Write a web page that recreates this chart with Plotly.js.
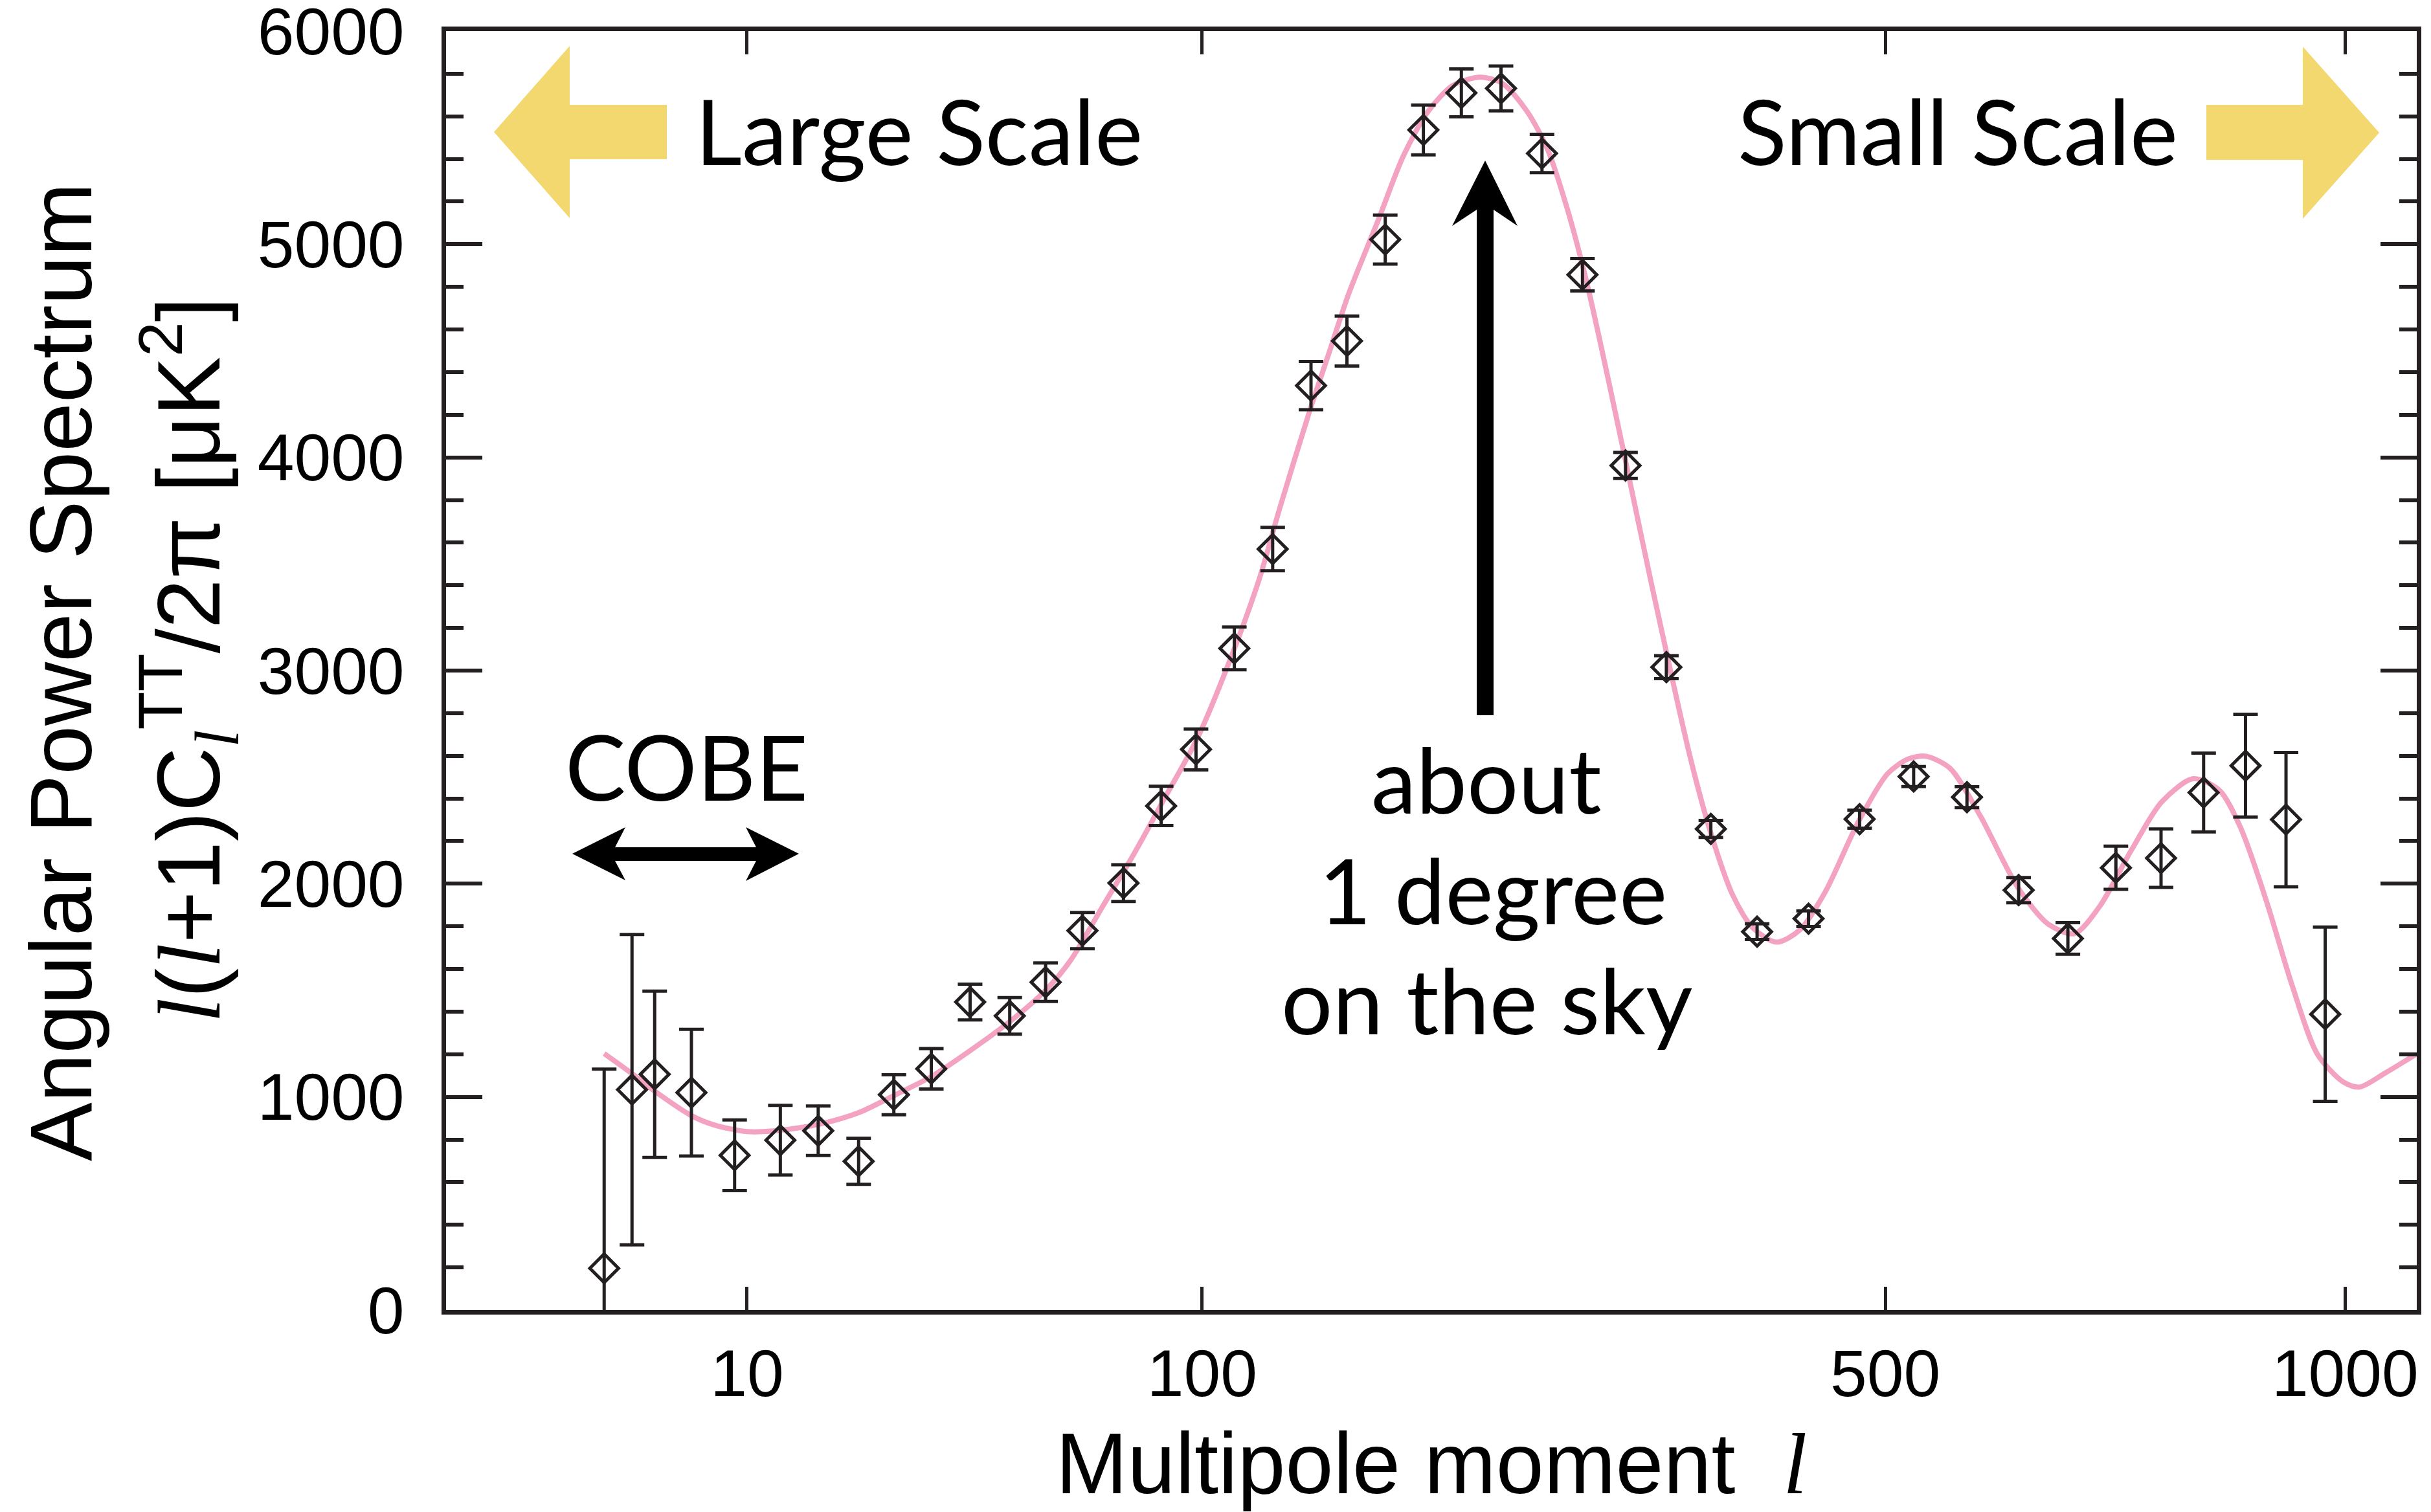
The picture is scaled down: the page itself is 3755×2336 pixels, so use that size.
<!DOCTYPE html>
<html>
<head>
<meta charset="utf-8">
<script src="https://cdn.plot.ly/plotly-3.0.1.min.js"></script>
<style>
  html, body { margin: 0; padding: 0; background: #ffffff; }
  #chart { width: 3755px; height: 2336px; }
</style>
</head>
<body>
<div id="chart"></div>
<script>
// ---------------- DATA ----------------
// Binned measurements: multipole moment l, power l(l+1)C_l/2pi [uK^2], 1-sigma error
const dataEll   = [2, 3, 4, 6, 9, 13, 17, 22, 27, 33, 40, 48, 56, 65, 76, 87, 98, 111, 125, 140,
                   155, 172, 190, 209, 230, 253, 277, 304, 331, 362, 396, 436, 478, 525, 574, 624, 674, 725, 775, 824,
                   874, 924, 974];
const dataPower = [196, 1034, 1106, 1020, 726, 797, 841, 698, 1010, 1132, 1445, 1380, 1538, 1780, 2003, 2365, 2630, 3104, 3570, 4337,
                   4546, 5022, 5536, 5710, 5731, 5426, 4857, 3962, 3016, 2257, 1775, 1836, 2303, 2503, 2406, 1970, 1743, 2075, 2120, 2428,
                   2554, 2301, 1388];
const dataError = [934, 728, 390, 297, 166, 163, 116, 108, 94, 95, 84, 86, 90, 85, 86, 92, 96, 100, 102, 113,
                   117, 115, 117, 112, 105, 90, 76, 61, 54, 40, 37, 37, 42, 47, 49, 59, 74, 101, 137, 185,
                   241, 315, 409];

// Model (theory) curve
const modelEll   = [2, 3, 4, 6, 7.5, 10, 12.3, 17, 22, 27.5, 33, 40, 48, 56, 62, 70, 79, 88, 98.5, 109.5,
                    120, 127.6, 139.3, 147.4, 155.8, 169, 180.4, 192.3, 204.7, 218.8, 230.9, 244.5, 256, 267.7, 279.6, 291.9, 304.5, 320.8,
                    348, 362.4, 377.7, 393, 411, 429, 450, 476, 502, 520, 536, 558, 587, 623, 654, 681, 708, 742, 776, 812, 843, 868,
                    900, 931, 964, 998, 1019, 1054, 1096];
const modelPower = [1203, 1109, 1027, 912, 868, 837, 840, 871, 926, 1014, 1095, 1217, 1353, 1500, 1640, 1885, 2141, 2399, 2684, 3050,
                    3430, 3758, 4212, 4490, 4769, 5118, 5414, 5623, 5745, 5784, 5754, 5623, 5449, 5170, 4822, 4404, 3967, 3413,
                    2577, 2228, 1949, 1792, 1726, 1783, 1967, 2280, 2516, 2585, 2598, 2542, 2315, 1984, 1810, 1766, 1897, 2158, 2385, 2493, 2437, 2263,
                    1914, 1531, 1200, 1069, 1046, 1113, 1200];

// Axis ticks
const xTickValues = [10, 100, 500, 1000];
const xTickLabels = ['10', '100', '500', '1000'];
const xMax = 1097;
const yMax = 6000;

// ---------------- AXIS SCALE ----------------
// The horizontal axis of the reference is spaced as l^0.4
const EXP = 0.4;
const tx = v => Math.pow(v, EXP);

// ---------------- LAYOUT HELPERS (decorations only) ----------------
const PL = 689, PR = 3733, PT = 48, PB = 2024;
const px = X => (X - PL) / (PR - PL);
const py = Y => (PB - Y) / (PB - PT);
function poly(pts) {
  return 'M ' + pts.map(p => px(p[0]).toFixed(5) + ',' + py(p[1]).toFixed(5)).join(' L ') + ' Z';
}

const ink = '#231f20';
const sans = 'Liberation Sans, Arial, Helvetica, sans-serif';
const gill = 'Lato, Open Sans, sans-serif';
const serifL = '<span style="font-family:Liberation Serif, Times New Roman, serif"><i>l</i></span>';

const traces = [
  {
    type: 'scatter', mode: 'lines',
    x: modelEll.map(tx), y: modelPower,
    line: { color: '#F4A2C1', width: 8, shape: 'spline', smoothing: 0.8 },
    hoverinfo: 'skip', showlegend: false
  },
  {
    type: 'scatter', mode: 'markers',
    x: dataEll.map(tx), y: dataPower,
    marker: { symbol: 'diamond-open', size: 34, color: ink, line: { color: ink, width: 5 } },
    error_y: { type: 'data', array: dataError, visible: true, color: ink, thickness: 5, width: 19 },
    showlegend: false
  }
];

const shapes = [
  // yellow "Large Scale" arrow
  { type: 'path', xref: 'paper', yref: 'paper', layer: 'below',
    path: poly([[763, 204], [880, 71], [880, 162], [1030, 162], [1030, 246], [880, 246], [880, 337]]),
    fillcolor: '#F3D870', line: { width: 0 } },
  // yellow "Small Scale" arrow
  { type: 'path', xref: 'paper', yref: 'paper', layer: 'below',
    path: poly([[3675, 205], [3557, 72], [3557, 162], [3408, 162], [3408, 247], [3557, 247], [3557, 338]]),
    fillcolor: '#F3D870', line: { width: 0 } },
  // black arrow pointing to the first peak
  { type: 'path', xref: 'paper', yref: 'paper', layer: 'above',
    path: poly([[2294, 248], [2344, 349], [2307, 324], [2307, 1105], [2281, 1105], [2281, 324], [2243, 349]]),
    fillcolor: '#000000', line: { width: 0 } },
  // COBE double-headed arrow
  { type: 'path', xref: 'paper', yref: 'paper', layer: 'above',
    path: poly([[884, 1319], [966, 1278], [950, 1309], [1168, 1309], [1152, 1278], [1234, 1319],
                [1152, 1361], [1168, 1330], [950, 1330], [966, 1360]]),
    fillcolor: '#000000', line: { width: 0 } }
];

// centre of a text box from its baseline: Lato box centre = baseline - 0.387 em
function ann(text, cx, baseline, size, extra) {
  return Object.assign({
    text: text, xref: 'paper', yref: 'paper',
    x: px(cx), y: py(baseline - 0.387 * size),
    xanchor: 'center', yanchor: 'middle', showarrow: false,
    font: { family: gill, size: size, color: '#000' }
  }, extra || {});
}

const annotations = [
  ann('Large Scale', 1419, 255, 140),
  ann('Small Scale', 3024, 255, 140),
  ann('COBE', 1060, 1237, 140),
  ann('about', 2296, 1257, 140),
  ann('1 degree', 2306, 1428, 140),
  ann('on the sky', 2296, 1598, 140),
  // vertical axis title, two lines
  { text: 'Angular Power Spectrum', xref: 'paper', yref: 'paper',
    x: px(94), y: py(1038), xanchor: 'center', yanchor: 'middle', textangle: -90, showarrow: false,
    font: { family: sans, size: 136, color: '#000' } },
  { text: serifL + '(' + serifL + '+1)C<sub>' + serifL + '</sub><sup>TT</sup>/2π [μK<sup>2</sup>]',
    xref: 'paper', yref: 'paper',
    x: px(292), y: py(1019), xanchor: 'center', yanchor: 'middle', textangle: -90, showarrow: false,
    font: { family: sans, size: 138, color: '#000' } }
];

const layout = {
  width: 3755, height: 2336,
  margin: { l: PL, r: 3755 - PR, t: PT, b: 2336 - PB, pad: 0 },
  paper_bgcolor: '#ffffff', plot_bgcolor: '#ffffff',
  showlegend: false,
  xaxis: {
    range: [0, tx(xMax)],
    tickmode: 'array', tickvals: xTickValues.map(tx), ticktext: xTickLabels,
    ticks: 'inside', ticklen: 36, tickwidth: 5, tickcolor: ink,
    showline: true, linewidth: 7, linecolor: ink, mirror: 'allticks',
    showgrid: false, zeroline: false, automargin: false,
    ticklabelstandoff: 4, ticklabeloverflow: 'allow',
    tickfont: { family: sans, size: 102, color: '#000' },
    title: { text: 'Multipole moment\u00a0\u00a0' + serifL, font: { family: sans, size: 133, color: '#000' }, standoff: 60 }
  },
  yaxis: {
    range: [0, yMax], tick0: 0, dtick: 1000,
    ticks: 'inside', ticklen: 56, tickwidth: 6, tickcolor: ink,
    minor: { dtick: 200, ticks: 'inside', ticklen: 27, tickwidth: 6, tickcolor: ink, showgrid: false },
    showline: true, linewidth: 7, linecolor: ink, mirror: 'allticks',
    showgrid: false, zeroline: false, automargin: false,
    ticklabelstandoff: 37, ticklabeloverflow: 'allow',
    tickfont: { family: sans, size: 102, color: '#000' }
  },
  shapes: shapes,
  annotations: annotations
};

Plotly.newPlot('chart', traces, layout, { staticPlot: true, displayModeBar: false });
</script>
</body>
</html>
